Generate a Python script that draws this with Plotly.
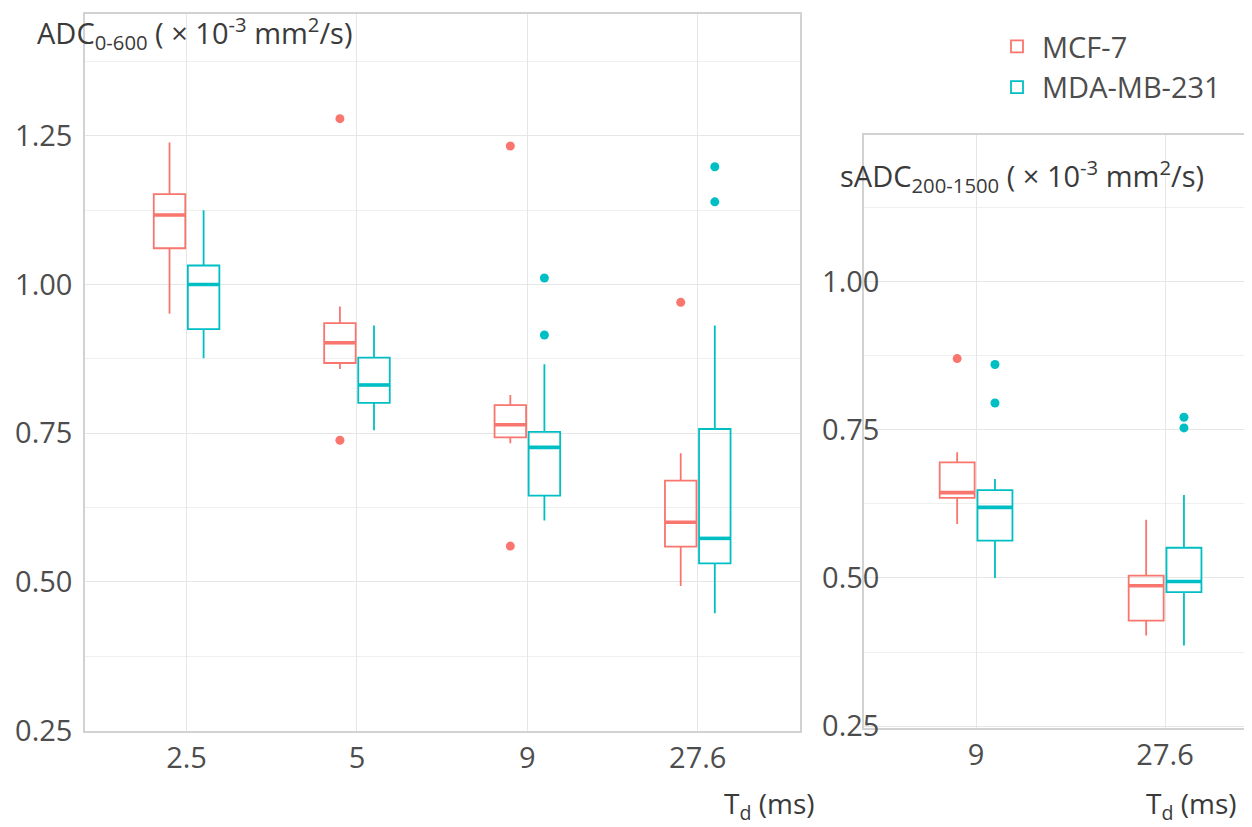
import plotly.graph_objects as go

# ---------------- data ----------------
left_categories = ["2.5", "5", "9", "27.6"]
right_categories = ["9", "27.6"]

# Left panel: ADC 0-600
mcf_left_low = [0.951, 0.858, 0.733, 0.493]
mcf_left_q1 = [1.061, 0.868, 0.743, 0.559]
mcf_left_med = [1.117, 0.902, 0.764, 0.600]
mcf_left_q3 = [1.152, 0.935, 0.797, 0.670]
mcf_left_high = [1.239, 0.963, 0.814, 0.716]
mcf_left_out = [[], [1.279, 0.738], [1.233, 0.560], [0.970]]

mda_left_low = [0.876, 0.755, 0.603, 0.447]
mda_left_q1 = [0.925, 0.801, 0.645, 0.531]
mda_left_med = [1.000, 0.831, 0.726, 0.573]
mda_left_q3 = [1.032, 0.877, 0.752, 0.757]
mda_left_high = [1.125, 0.931, 0.866, 0.931]
mda_left_out = [[], [], [1.011, 0.915], [1.198, 1.139]]

# Right panel: sADC 200-1500
mcf_right_low = [0.591, 0.403]
mcf_right_q1 = [0.635, 0.428]
mcf_right_med = [0.644, 0.487]
mcf_right_q3 = [0.695, 0.504]
mcf_right_high = [0.712, 0.598]
mcf_right_out = [[0.870], []]

mda_right_low = [0.500, 0.386]
mda_right_q1 = [0.563, 0.476]
mda_right_med = [0.619, 0.494]
mda_right_q3 = [0.648, 0.551]
mda_right_high = [0.667, 0.640]
mda_right_out = [[0.860, 0.795], [0.771, 0.753]]

series_names = ["MCF-7", "MDA-MB-231"]

# ---------------- style ----------------
RED = "#F8766D"
TEAL = "#00BFC4"
FONT = "Open Sans"
TXT = "#4d4d4d"
GRID = "#e6e6e6"
MINOR = "#efefef"
BORDER = "#d2d2d2"
DODGE = 0.1
BOXW = 0.185
LW = 1.8

# page body has an 8px margin: figure is sized/positioned to compensate
OX, OY = 8, 8
W, H = 1252 - OX, 827 - OY


def px(x):
    return (x - OX) / W


def py(y):
    return 1 - (y - OY) / H


fig = go.Figure()


def add_series(cats, low, q1, med, q3, high, outs, color, name, offset, xa, ya, show):
    idx = list(range(len(cats)))
    pos = [i + offset for i in idx]
    fig.add_trace(go.Box(
        x=pos, q1=q1, median=med, q3=q3, lowerfence=low, upperfence=high,
        width=BOXW, whiskerwidth=0, boxpoints=False,
        line=dict(color=color, width=LW), fillcolor="rgba(255,255,255,0)",
        name=name, showlegend=show, legendgroup=name,
        xaxis=xa, yaxis=ya, hoverinfo="skip"))
    # thicker median line
    mx, my = [], []
    for p, m in zip(pos, med):
        mx += [p - BOXW / 2, p + BOXW / 2, None]
        my += [m, m, None]
    fig.add_trace(go.Scatter(x=mx, y=my, mode="lines",
                             line=dict(color=color, width=3.6),
                             showlegend=False, xaxis=xa, yaxis=ya, hoverinfo="skip"))
    ox, oy = [], []
    for p, o in zip(pos, outs):
        for v in o:
            ox.append(p)
            oy.append(v)
    fig.add_trace(go.Scatter(x=ox, y=oy, mode="markers",
                             marker=dict(color=color, size=9),
                             showlegend=False, xaxis=xa, yaxis=ya, hoverinfo="skip"))


add_series(left_categories, mcf_left_low, mcf_left_q1, mcf_left_med, mcf_left_q3,
           mcf_left_high, mcf_left_out, RED, series_names[0], -DODGE, "x", "y", True)
add_series(left_categories, mda_left_low, mda_left_q1, mda_left_med, mda_left_q3,
           mda_left_high, mda_left_out, TEAL, series_names[1], DODGE, "x", "y", True)
add_series(right_categories, mcf_right_low, mcf_right_q1, mcf_right_med, mcf_right_q3,
           mcf_right_high, mcf_right_out, RED, series_names[0], -DODGE, "x2", "y2", False)
add_series(right_categories, mda_right_low, mda_right_q1, mda_right_med, mda_right_q3,
           mda_right_high, mda_right_out, TEAL, series_names[1], DODGE, "x2", "y2", False)

common_x = dict(showgrid=True, gridcolor=GRID, gridwidth=1, zeroline=False,
                showline=True, linecolor=BORDER, linewidth=1.5, mirror=True,
                ticks="", tickfont=dict(family=FONT, size=29, color=TXT),
                ticklabelstandoff=0, fixedrange=True, automargin=False)
common_y = dict(showgrid=True, gridcolor=GRID, gridwidth=1, zeroline=False,
                showline=True, linecolor=BORDER, linewidth=1.5,
                ticks="", tickfont=dict(family=FONT, size=29, color=TXT),
                tick0=0.25, dtick=0.25, tickformat=".2f",
                minor=dict(tick0=0.125, dtick=0.125, showgrid=True, gridcolor=MINOR, gridwidth=1),
                fixedrange=True, automargin=False)

fig.update_layout(
    width=W, height=H,
    margin=dict(l=0, r=0, t=0, b=0, autoexpand=False),
    paper_bgcolor="white", plot_bgcolor="white",
    boxmode="overlay",
    font=dict(family=FONT, color=TXT),
    xaxis=dict(common_x, domain=[px(85), px(800)], range=[-0.596, 3.6],
               tickmode="array", tickvals=list(range(len(left_categories))),
               ticktext=left_categories, anchor="y"),
    yaxis=dict(common_y, domain=[py(731), py(14)], range=[0.249, 1.455],
               mirror=True, ticklabelstandoff=5, anchor="x"),
    xaxis2=dict(common_x, domain=[px(864), 1.0], range=[-0.593, 1.46],
                tickmode="array", tickvals=list(range(len(right_categories))),
                ticktext=right_categories, anchor="y2"),
    yaxis2=dict(common_y, domain=[py(728), py(135)], range=[0.247, 1.247],
                mirror=False, ticklabelstandoff=-23, anchor="x2"),
    legend=dict(x=px(992), y=py(21), xanchor="left", yanchor="top",
                font=dict(family=FONT, size=29, color=TXT),
                bgcolor="rgba(255,255,255,0)", itemwidth=40, tracegroupgap=0),
    showlegend=True,
)

ann_font = dict(family=FONT, size=29, color="#3a3a3a")
fig.add_annotation(text="ADC<sub>0-600</sub> ( × 10<sup>-3</sup> mm<sup>2</sup>/s)",
                   xref="paper", yref="paper", x=px(35), y=py(33),
                   xanchor="left", yanchor="middle", showarrow=False, font=ann_font)
fig.add_annotation(text="sADC<sub>200-1500</sub> ( × 10<sup>-3</sup> mm<sup>2</sup>/s)",
                   xref="paper", yref="paper", x=px(838), y=py(176),
                   xanchor="left", yanchor="middle", showarrow=False, font=ann_font)
td_font = dict(family=FONT, size=28, color="#3a3a3a")
fig.add_annotation(text="T<sub>d</sub> (ms)",
                   xref="paper", yref="paper", x=px(816), y=py(805),
                   xanchor="right", yanchor="middle", showarrow=False, font=td_font)
fig.add_annotation(text="T<sub>d</sub> (ms)",
                   xref="paper", yref="paper", x=px(1238), y=py(805),
                   xanchor="right", yanchor="middle", showarrow=False, font=td_font)

fig.write_html("out.html")
